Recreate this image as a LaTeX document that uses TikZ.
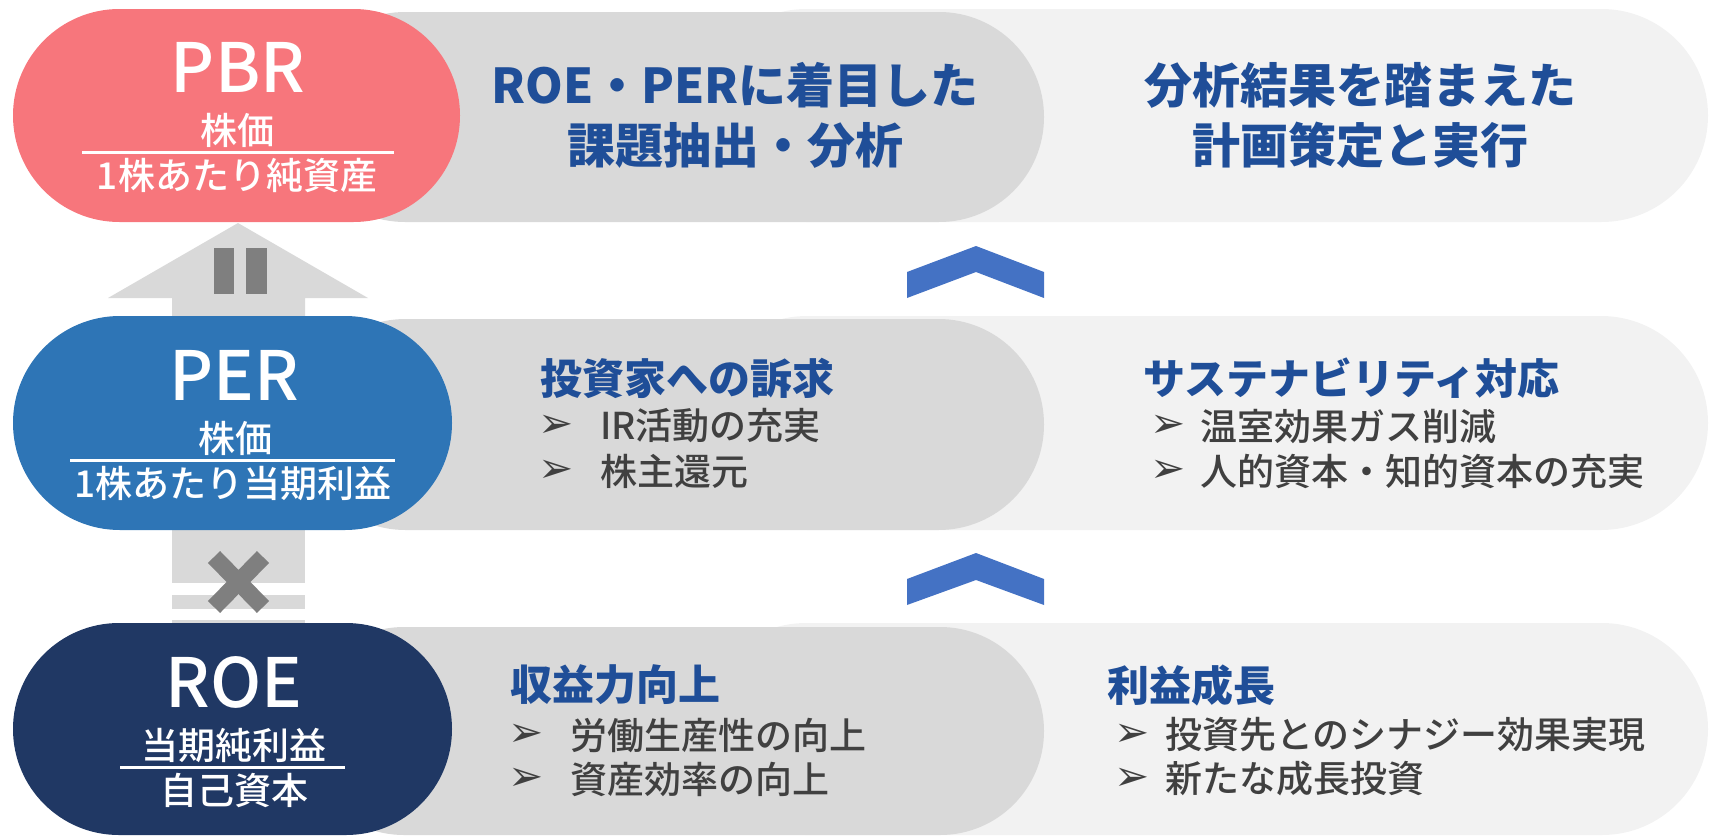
\documentclass[tikz,border=0pt]{standalone}
\usepackage{fontspec}
\setmainfont{Noto Sans CJK JP}
\newfontfamily\symfont{DejaVu Sans}
\newfontfamily\medfont{Noto Sans CJK JP Medium}
\definecolor{pinkc}{HTML}{F7767C}
\definecolor{bluec}{HTML}{2E75B6}
\definecolor{navyc}{HTML}{203864}
\definecolor{grayc}{HTML}{D9D9D9}
\definecolor{lightc}{HTML}{F2F2F2}
\definecolor{headc}{HTML}{1F4E98}
\definecolor{bodyc}{HTML}{404040}
\definecolor{chevc}{HTML}{4472C4}
\definecolor{markc}{HTML}{7F7F7F}
\tikzset{
  bigtxt/.style={text=white, inner sep=0pt, font=\fontsize{68}{68}\selectfont\medfont},
  subtxt/.style={text=white, inner sep=0pt, font=\fontsize{37}{37}\selectfont\medfont},
  toptxt/.style={text=headc, inner sep=0pt, align=center, font=\fontsize{48}{60}\selectfont\bfseries},
  headtxt/.style={text=headc, inner sep=0pt, anchor=west, font=\fontsize{42}{42}\selectfont\bfseries},
  bodytxt/.style={text=bodyc, inner sep=0pt, anchor=west, font=\fontsize{37}{37}\selectfont\medfont},
  bullet/.style={text=bodyc, inner sep=0pt, anchor=west, font=\fontsize{42}{42}\selectfont\symfont},
  fracline/.style={draw=white, line width=3pt},
}
\begin{document}
\begin{tikzpicture}[x=1pt,y=-1pt]
\useasboundingbox (0,0) rectangle (1710,835);
% row backgrounds
\fill[lightc, rounded corners=106.4pt] (700,9) rectangle (1708,222);
\fill[grayc, rounded corners=104.9pt] (300,12) rectangle (1044,222);
\fill[lightc, rounded corners=106.9pt] (700,316) rectangle (1708,530);
\fill[grayc, rounded corners=105.4pt] (300,319) rectangle (1044,530);
\fill[lightc, rounded corners=105.9pt] (700,623) rectangle (1708,835);
\fill[grayc, rounded corners=103.9pt] (300,627) rectangle (1044,835);
% up arrow between PER and PBR
\fill[grayc] (238,223) -- (368,298) -- (305,298) -- (305,322) -- (172,322) -- (172,298) -- (108,298) -- cycle;
\fill[markc] (214,248) rectangle (234,294);
\fill[markc] (246,248) rectangle (267,294);
% shaft between ROE and PER
\fill[grayc] (172,524) rectangle (305,630);
\fill[white] (172,583) rectangle (305,595);
\fill[white] (172,609) rectangle (305,620);
% left pills
\fill[pinkc, rounded corners=106.4pt] (13,9) rectangle (460,222);
\fill[bluec, rounded corners=106.9pt] (13,316) rectangle (452,530);
\fill[navyc, rounded corners=105.9pt] (13,623) rectangle (452,835);
% times sign
\draw[markc, line width=17pt] (214,557) -- (263,607) (263,557) -- (214,607);
% chevrons
\fill[chevc] (907,298) -- (907,272) -- (976,246) -- (1044,272) -- (1044,298) -- (976,272) -- cycle;
\fill[chevc] (907,605) -- (907,579) -- (976,553) -- (1044,579) -- (1044,605) -- (976,580) -- cycle;
% PBR
\node[bigtxt] (pbr) at (238,67) {PBR};
\node[subtxt] (pbrnum) at (237,130) {株価};
\draw[fracline] (82,152) -- (394,152);
\node[subtxt] (pbrden) at (237,175) {1株あたり純資産};
% PER
\node[bigtxt] (per) at (234,375) {PER};
\node[subtxt] (pernum) at (235,438) {株価};
\draw[fracline] (70,460) -- (395,460);
\node[subtxt] (perden) at (233,483) {1株あたり当期利益};
% ROE
\node[bigtxt] (roe) at (234,682) {ROE};
\node[subtxt] (roenum) at (234,745) {当期純利益};
\draw[fracline] (120,767) -- (345,767);
\node[subtxt] (roeden) at (234,790) {自己資本};
% row 1 texts
\node[toptxt] (t1a) at (735,115) {ROE・PERに着目した\\課題抽出・分析};
\node[toptxt] (t1b) at (1360,115) {分析結果を踏まえた\\計画策定と実行};
% row 2 texts
\node[headtxt] (h2a) at (540,378) {投資家への訴求};
\node[bullet] (b2a1) at (538,426) {➢};
\node[bodytxt] (x2a1) at (600,426) {IR活動の充実};
\node[bullet] (b2a2) at (538,471) {➢};
\node[bodytxt] (x2a2) at (600,471) {株主還元};
\node[headtxt] (h2b) at (1143,378) {サステナビリティ対応};
\node[bullet] (b2b1) at (1150,426) {➢};
\node[bodytxt] (x2b1) at (1200,426) {温室効果ガス削減};
\node[bullet] (b2b2) at (1150,471) {➢};
\node[bodytxt] (x2b2) at (1200,471) {人的資本・知的資本の充実};
% row 3 texts
\node[headtxt] (h3a) at (510,685) {収益力向上};
\node[bullet] (b3a1) at (508,735) {➢};
\node[bodytxt] (x3a1) at (570,735) {労働生産性の向上};
\node[bullet] (b3a2) at (508,779) {➢};
\node[bodytxt] (x3a2) at (570,779) {資産効率の向上};
\node[headtxt] (h3b) at (1107,685) {利益成長};
\node[bullet] (b3b1) at (1114,735) {➢};
\node[bodytxt] (x3b1) at (1165,735) {投資先とのシナジー効果実現};
\node[bullet] (b3b2) at (1114,779) {➢};
\node[bodytxt] (x3b2) at (1165,779) {新たな成長投資};
\end{tikzpicture}
\end{document}
